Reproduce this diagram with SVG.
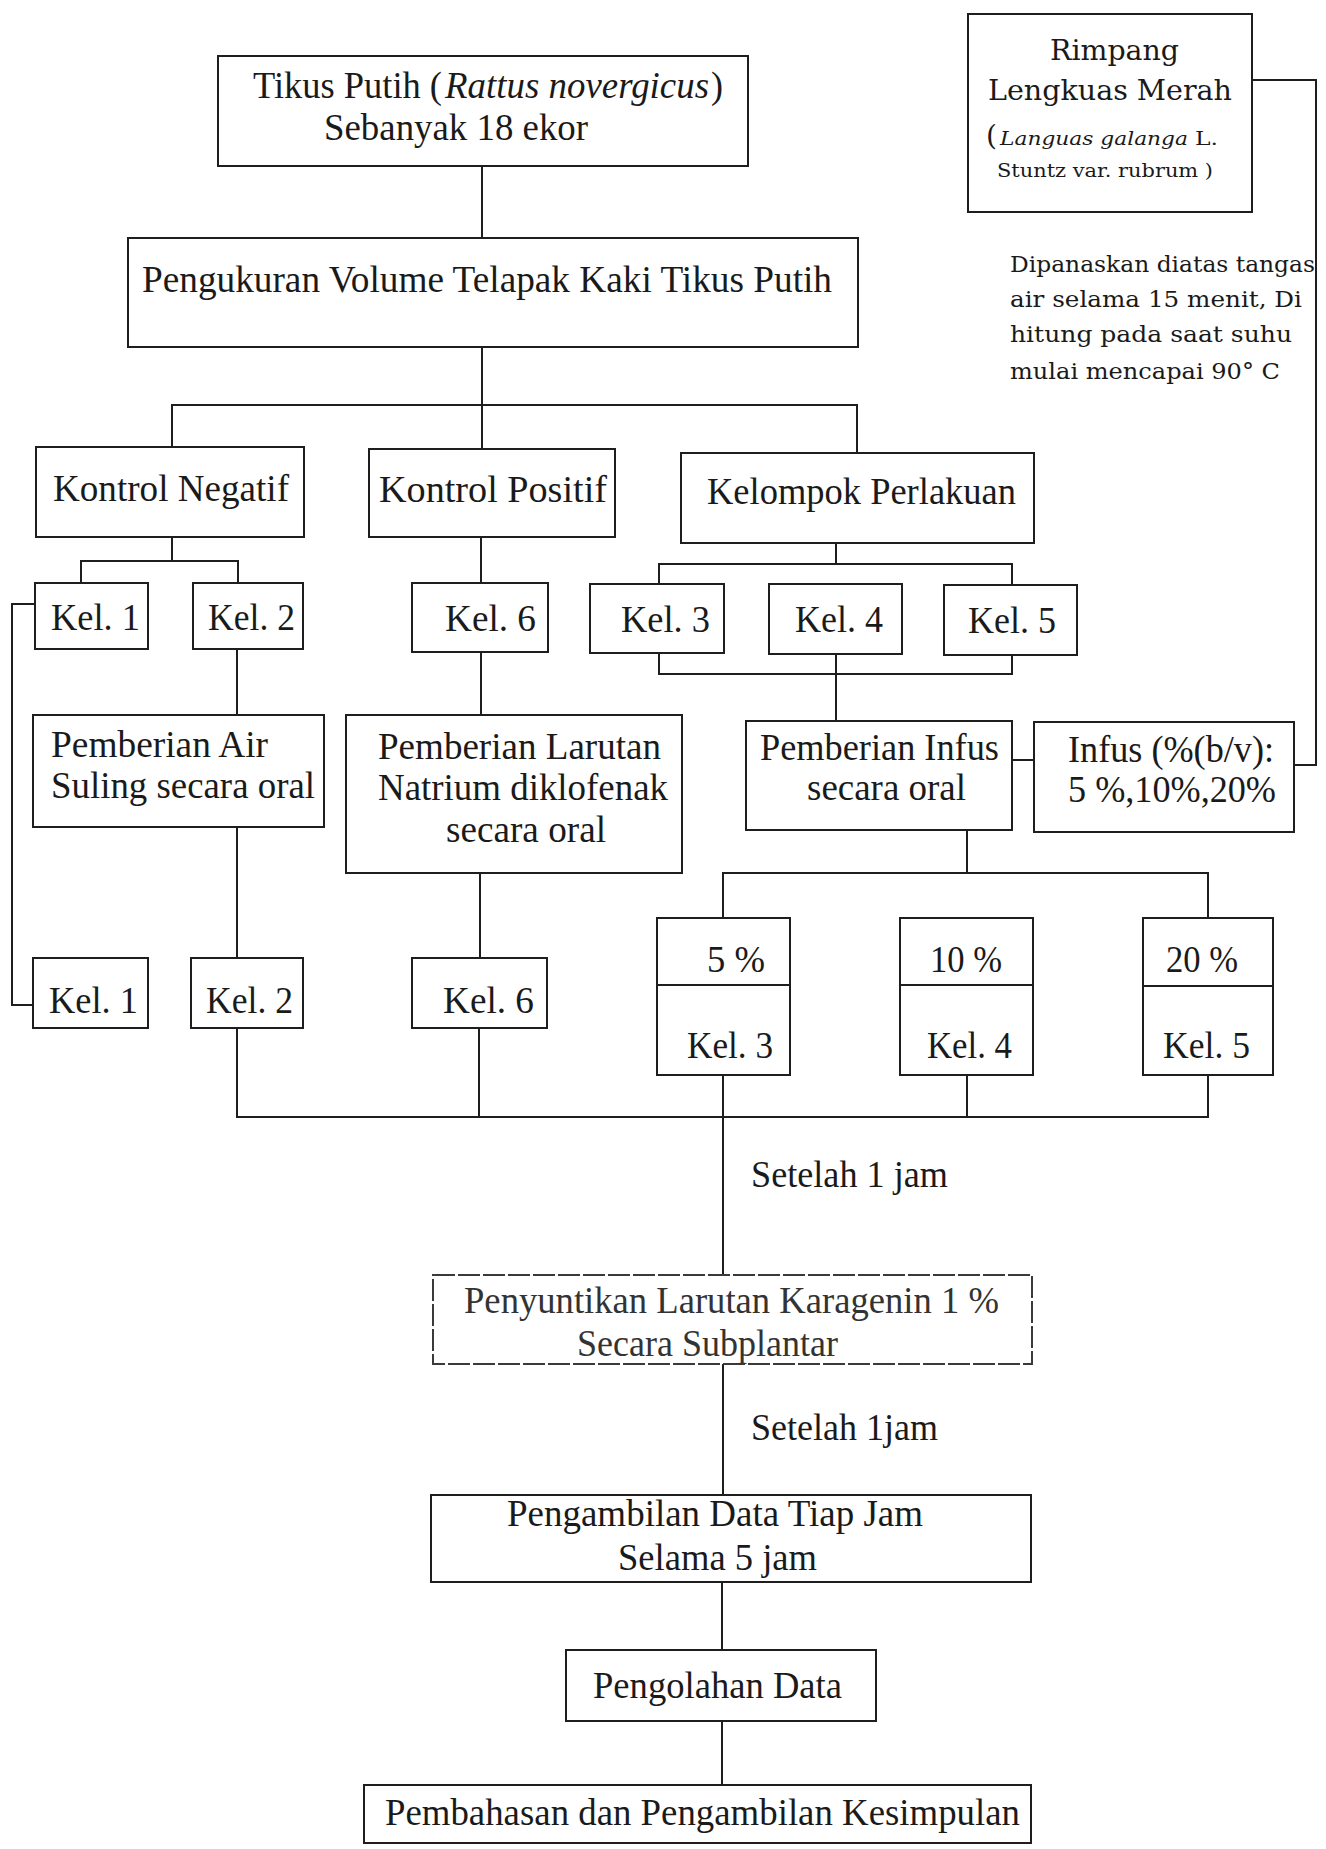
<svg xmlns="http://www.w3.org/2000/svg" width="1326" height="1849" viewBox="0 0 1326 1849">
<style>
.bx{fill:none;stroke:#1e1e1e;stroke-width:2}
.dbx{fill:none;stroke:#3a3a3a;stroke-width:2;stroke-dasharray:22 3}
.ln{fill:none;stroke:#1e1e1e;stroke-width:2}
.t{font-family:"Liberation Serif","Times New Roman",serif;font-size:37.5px;fill:#1a1a1a}
.g{fill:#333}
.i{font-style:italic}
.r{font-family:"DejaVu Serif","Liberation Serif",serif;font-size:28px;fill:#1a1a1a}
.s{font-family:"DejaVu Serif","Liberation Serif",serif;font-size:19px;fill:#1a1a1a}
.a{font-family:"DejaVu Serif","Liberation Serif",serif;font-size:23px;fill:#1a1a1a}
</style>
<rect width="1326" height="1849" fill="#fff"/>
<g id="connectors">
<path class="ln" d="M482 166V238"/>
<path class="ln" d="M482 347V449"/>
<path class="ln" d="M172 447V405H857V453"/>
<path class="ln" d="M172 537V561"/>
<path class="ln" d="M81 583V561H238V583"/>
<path class="ln" d="M481 537V583"/>
<path class="ln" d="M237 649V715"/>
<path class="ln" d="M481 652V715"/>
<path class="ln" d="M237 827V958"/>
<path class="ln" d="M480 873V958"/>
<path class="ln" d="M35 604H12V1005H33"/>
<path class="ln" d="M836 543V564"/>
<path class="ln" d="M659 585V564H1012V585"/>
<path class="ln" d="M659 653V674H1012V655"/>
<path class="ln" d="M836 654V721"/>
<path class="ln" d="M1012 760H1034"/>
<path class="ln" d="M1252 80H1316V765H1294"/>
<path class="ln" d="M967 830V873"/>
<path class="ln" d="M723 918V873H1208V918"/>
<path class="ln" d="M237 1028V1117H1208V1075"/>
<path class="ln" d="M479 1028V1117"/>
<path class="ln" d="M723 1075V1275"/>
<path class="ln" d="M967 1075V1117"/>
<path class="ln" d="M723 1364V1495"/>
<path class="ln" d="M722 1582V1650"/>
<path class="ln" d="M722 1721V1785"/>
</g>
<g id="n-tikus">
<rect class="bx" x="218" y="56" width="530" height="110"/>
<text class="t" x="253" y="98" textLength="189" lengthAdjust="spacingAndGlyphs">Tikus Putih (</text>
<text class="t i" x="445" y="98" textLength="264" lengthAdjust="spacingAndGlyphs">Rattus novergicus</text>
<text class="t" x="711" y="98" textLength="12" lengthAdjust="spacingAndGlyphs">)</text>
<text class="t" x="324" y="140" textLength="264" lengthAdjust="spacingAndGlyphs">Sebanyak 18 ekor</text>
</g>
<g id="n-rimpang">
<rect class="bx" x="968" y="14" width="284" height="198"/>
<text class="r" x="1050" y="60" textLength="129" lengthAdjust="spacingAndGlyphs">Rimpang</text>
<text class="r" x="988" y="100" textLength="244" lengthAdjust="spacingAndGlyphs">Lengkuas Merah</text>
<text class="r" x="986" y="145" textLength="11" lengthAdjust="spacingAndGlyphs">(</text>
<text class="s i" x="1000" y="145" textLength="188" lengthAdjust="spacingAndGlyphs">Languas galanga</text>
<text class="s" x="1195" y="145" textLength="23" lengthAdjust="spacingAndGlyphs">L.</text>
<text class="s" x="997" y="177" textLength="216" lengthAdjust="spacingAndGlyphs">Stuntz var. rubrum )</text>
</g>
<g id="label-pemanasan">
<text class="a" x="1010" y="272" textLength="305" lengthAdjust="spacingAndGlyphs">Dipanaskan diatas tangas</text>
<text class="a" x="1010" y="307" textLength="292" lengthAdjust="spacingAndGlyphs">air selama  15 menit, Di</text>
<text class="a" x="1010" y="342" textLength="282" lengthAdjust="spacingAndGlyphs">hitung  pada  saat  suhu</text>
<text class="a" x="1010" y="379" textLength="270" lengthAdjust="spacingAndGlyphs">mulai mencapai 90° C</text>
</g>
<g id="n-pengukuran">
<rect class="bx" x="128" y="238" width="730" height="109"/>
<text class="t" x="142" y="292" textLength="690" lengthAdjust="spacingAndGlyphs">Pengukuran Volume Telapak Kaki Tikus Putih</text>
</g>
<g id="n-kontrol-negatif">
<rect class="bx" x="36" y="447" width="268" height="90"/>
<text class="t" x="53" y="501" textLength="236" lengthAdjust="spacingAndGlyphs">Kontrol Negatif</text>
</g>
<g id="n-kontrol-positif">
<rect class="bx" x="369" y="449" width="246" height="88"/>
<text class="t" x="379" y="502" textLength="228" lengthAdjust="spacingAndGlyphs">Kontrol Positif</text>
</g>
<g id="n-kelompok-perlakuan">
<rect class="bx" x="681" y="453" width="353" height="90"/>
<text class="t" x="707" y="504" textLength="309" lengthAdjust="spacingAndGlyphs">Kelompok Perlakuan</text>
</g>
<g id="n-kel1-a">
<rect class="bx" x="35" y="583" width="113" height="66"/>
<text class="t" x="51" y="630" textLength="89" lengthAdjust="spacingAndGlyphs">Kel. 1</text>
</g>
<g id="n-kel2-a">
<rect class="bx" x="193" y="583" width="110" height="66"/>
<text class="t" x="208" y="630" textLength="87" lengthAdjust="spacingAndGlyphs">Kel. 2</text>
</g>
<g id="n-kel6-a">
<rect class="bx" x="412" y="583" width="136" height="69"/>
<text class="t" x="445" y="631" textLength="91" lengthAdjust="spacingAndGlyphs">Kel. 6</text>
</g>
<g id="n-kel3-a">
<rect class="bx" x="590" y="584" width="134" height="69"/>
<text class="t" x="621" y="632" textLength="89" lengthAdjust="spacingAndGlyphs">Kel. 3</text>
</g>
<g id="n-kel4-a">
<rect class="bx" x="769" y="584" width="133" height="70"/>
<text class="t" x="795" y="632" textLength="88" lengthAdjust="spacingAndGlyphs">Kel. 4</text>
</g>
<g id="n-kel5-a">
<rect class="bx" x="944" y="585" width="133" height="70"/>
<text class="t" x="968" y="633" textLength="88" lengthAdjust="spacingAndGlyphs">Kel. 5</text>
</g>
<g id="n-air-suling">
<rect class="bx" x="33" y="715" width="291" height="112"/>
<text class="t" x="51" y="757" textLength="217" lengthAdjust="spacingAndGlyphs">Pemberian Air</text>
<text class="t" x="51" y="798" textLength="264" lengthAdjust="spacingAndGlyphs">Suling secara oral</text>
</g>
<g id="n-larutan-natrium">
<rect class="bx" x="346" y="715" width="336" height="158"/>
<text class="t" x="378" y="759" textLength="283" lengthAdjust="spacingAndGlyphs">Pemberian Larutan</text>
<text class="t" x="378" y="800" textLength="290" lengthAdjust="spacingAndGlyphs">Natrium diklofenak</text>
<text class="t" x="446" y="842" textLength="160" lengthAdjust="spacingAndGlyphs">secara oral</text>
</g>
<g id="n-infus-oral">
<rect class="bx" x="746" y="721" width="266" height="109"/>
<text class="t" x="760" y="760" textLength="239" lengthAdjust="spacingAndGlyphs">Pemberian Infus</text>
<text class="t" x="807" y="800" textLength="159" lengthAdjust="spacingAndGlyphs">secara oral</text>
</g>
<g id="n-infus-konsentrasi">
<rect class="bx" x="1034" y="722" width="260" height="110"/>
<text class="t" x="1068" y="762" textLength="206" lengthAdjust="spacingAndGlyphs">Infus (%(b/v):</text>
<text class="t" x="1068" y="802" textLength="208" lengthAdjust="spacingAndGlyphs">5 %,10%,20%</text>
</g>
<g id="n-kel1-b">
<rect class="bx" x="33" y="958" width="115" height="70"/>
<text class="t" x="49" y="1013" textLength="89" lengthAdjust="spacingAndGlyphs">Kel. 1</text>
</g>
<g id="n-kel2-b">
<rect class="bx" x="191" y="958" width="112" height="70"/>
<text class="t" x="206" y="1013" textLength="87" lengthAdjust="spacingAndGlyphs">Kel. 2</text>
</g>
<g id="n-kel6-b">
<rect class="bx" x="412" y="958" width="135" height="70"/>
<text class="t" x="443" y="1013" textLength="91" lengthAdjust="spacingAndGlyphs">Kel. 6</text>
</g>
<g id="n-5persen-kel3">
<rect class="bx" x="657" y="918" width="133" height="157"/>
<path class="ln" d="M657 985H790"/>
<text class="t" x="707" y="972" textLength="58" lengthAdjust="spacingAndGlyphs">5 %</text>
<text class="t" x="687" y="1058" textLength="86" lengthAdjust="spacingAndGlyphs">Kel. 3</text>
</g>
<g id="n-10persen-kel4">
<rect class="bx" x="900" y="918" width="133" height="157"/>
<path class="ln" d="M900 985H1033"/>
<text class="t" x="930" y="972" textLength="72" lengthAdjust="spacingAndGlyphs">10 %</text>
<text class="t" x="927" y="1058" textLength="85" lengthAdjust="spacingAndGlyphs">Kel. 4</text>
</g>
<g id="n-20persen-kel5">
<rect class="bx" x="1143" y="918" width="130" height="157"/>
<path class="ln" d="M1143 986H1273"/>
<text class="t" x="1166" y="972" textLength="72" lengthAdjust="spacingAndGlyphs">20 %</text>
<text class="t" x="1163" y="1058" textLength="87" lengthAdjust="spacingAndGlyphs">Kel. 5</text>
</g>
<g id="label-setelah-1">
<text class="t" x="751" y="1187" textLength="197" lengthAdjust="spacingAndGlyphs">Setelah 1 jam</text>
</g>
<g id="n-penyuntikan">
<rect class="dbx" x="433" y="1275" width="599" height="89"/>
<text class="t g" x="464" y="1313" textLength="535" lengthAdjust="spacingAndGlyphs">Penyuntikan Larutan Karagenin 1 %</text>
<text class="t g" x="577" y="1356" textLength="261" lengthAdjust="spacingAndGlyphs">Secara Subplantar</text>
</g>
<g id="label-setelah-2">
<text class="t" x="751" y="1440" textLength="187" lengthAdjust="spacingAndGlyphs">Setelah 1jam</text>
</g>
<g id="n-pengambilan">
<rect class="bx" x="431" y="1495" width="600" height="87"/>
<text class="t" x="507" y="1526" textLength="416" lengthAdjust="spacingAndGlyphs">Pengambilan Data Tiap Jam</text>
<text class="t" x="618" y="1570" textLength="199" lengthAdjust="spacingAndGlyphs">Selama 5 jam</text>
</g>
<g id="n-pengolahan">
<rect class="bx" x="566" y="1650" width="310" height="71"/>
<text class="t" x="593" y="1698" textLength="249" lengthAdjust="spacingAndGlyphs">Pengolahan Data</text>
</g>
<g id="n-pembahasan">
<rect class="bx" x="364" y="1785" width="667" height="58"/>
<text class="t" x="385" y="1825" textLength="635" lengthAdjust="spacingAndGlyphs">Pembahasan dan Pengambilan Kesimpulan</text>
</g>
</svg>
